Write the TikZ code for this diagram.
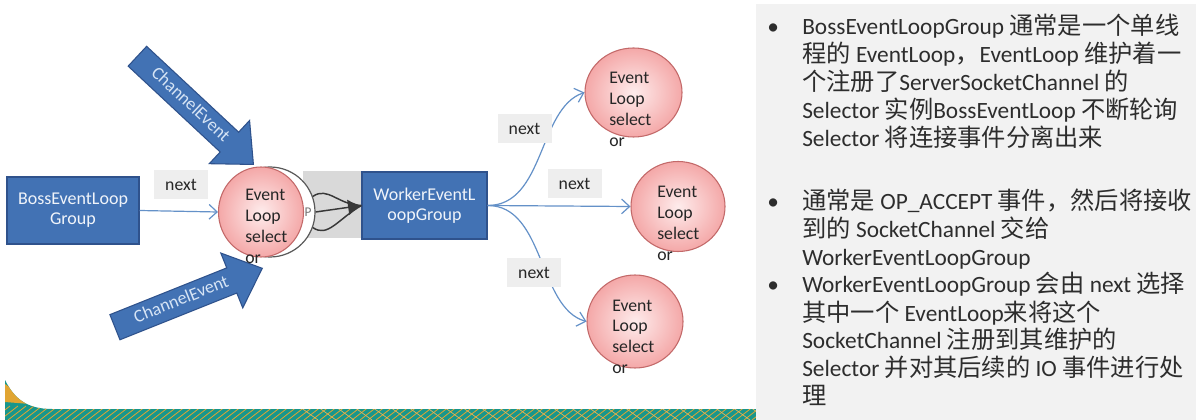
\documentclass[tikz,border=0pt]{standalone}
\usepackage{fontspec}
\setmainfont{Carlito}
\newfontfamily\cjk{Noto Sans CJK SC}[Scale=1.04]
\usetikzlibrary{shapes.geometric,shapes.arrows,arrows.meta}
\definecolor{boxblue}{RGB}{66,114,180}
\definecolor{boxedge}{RGB}{47,82,140}
\definecolor{boxtext}{RGB}{240,244,250}
\definecolor{arrtext}{RGB}{214,228,245}
\definecolor{pinkin}{RGB}{254,236,236}
\definecolor{pinkout}{RGB}{244,168,168}
\definecolor{pinkedge}{RGB}{195,105,105}
\definecolor{conncol}{RGB}{100,145,200}
\definecolor{lblbg}{RGB}{238,238,238}
\definecolor{junc}{RGB}{217,217,217}
\definecolor{panel}{RGB}{242,242,242}
\definecolor{ptext}{RGB}{45,45,45}
\definecolor{tealc}{RGB}{24,150,140}
\definecolor{orng}{RGB}{225,165,50}
\newcommand\zh[1]{{\cjk #1}}
\begin{document}
\begin{tikzpicture}[x=0.75pt,y=-0.75pt,
  bluebox/.style={rectangle, draw=boxedge, fill=boxblue, line width=0.9pt, text=boxtext,
    font=\fontsize{13.5}{15}\selectfont, align=center, inner sep=0pt},
  loopc/.style={ellipse, draw=pinkedge, line width=0.8pt, inner color=pinkin, outer color=pinkout, inner sep=0pt},
  ctext/.style={anchor=base west, inner sep=0pt, text=black!85, font=\fontsize{13.3}{15.75}\selectfont},
  nextlbl/.style={rectangle, fill=lblbg, minimum width=40.5pt, minimum height=22pt, inner sep=0pt,
    text=black!85, font=\fontsize{13.3}{15}\selectfont},
  conn/.style={draw=conncol, line width=0.9pt, -{Straight Barb[length=6pt,width=11pt]}},
  blk/.style={draw=black!78, line width=1.1pt},
  chev/.style={single arrow, draw=boxedge, fill=boxblue, line width=0.8pt, text=arrtext,
    font=\fontsize{13.5}{15}\selectfont, single arrow head extend=12pt, single arrow tip angle=84,
    minimum height=119pt, text height=9pt, text depth=2.5pt, inner ysep=4pt, inner xsep=2pt},
  ptxt/.style={anchor=base west, inner sep=0pt, text=ptext, font=\fontsize{17.5}{21}\selectfont}
]
\useasboundingbox (0,0) rectangle (1196,420);
\fill[white] (0,0) rectangle (1196,420);

% bottom decorative strip
\begin{scope}
  \clip (5,380) .. controls (14,398) and (26,409) .. (52,409) -- (757,409) -- (757,420) -- (5,420) -- cycle;
  \fill[tealc] (0,370) rectangle (760,420);
  \fill[orng] (5,384) -- (22,396) -- (30,404) -- (5,402) -- cycle;
  \foreach \i in {-40,-32,...,760} \draw[orng, line width=0.6pt] (\i,420) -- ++(18,-14);
  \foreach \i in {300,318,...,760} \draw[orng!80!white, line width=0.5pt] (\i,407) -- ++(18,13);
\end{scope}

% right panel
\fill[panel] (756,4) rectangle (1196,420);

% junction background and ring
\node[rectangle, fill=junc, minimum width=44.25pt, minimum height=50.25pt, inner sep=0pt] (jbg) at (332.5,204.5) {};
\node[circle, draw=black!65, fill=white, line width=0.9pt, minimum size=67.5pt, inner sep=0pt] (ring) at (270,212) {};
\node[inner sep=0pt, text=black!55, font=\fontsize{10}{12}\selectfont] (pl) at (308,212) {P};

% boxes
\node[bluebox, minimum width=99pt, minimum height=50.25pt] (boss) at (73,210.5) {BossEventLoop\\Group};
\node[bluebox, minimum width=93.75pt, minimum height=50.25pt] (worker) at (424.5,205.5) {WorkerEventL\\oopGroup};

% black fork arrow
\draw[blk, -{Latex[length=10pt,width=12pt]}] (ring.east) -- (worker.west);
\draw[blk] (ring.20) .. controls (328,186) and (338,205) .. (worker.west);
\draw[blk] (ring.-20) .. controls (328,238) and (338,219) .. (worker.west);

% event loop circles
\node[loopc, minimum width=63.75pt, minimum height=67.5pt] (c1) at (261,212) {};
\node[loopc, minimum width=72.75pt, minimum height=66.75pt] (ct) at (633.5,92.5) {};
\node[loopc, minimum width=70.5pt, minimum height=67.5pt] (cm) at (678,206.5) {};
\node[loopc, minimum width=72pt, minimum height=69.75pt] (cb) at (635,321.5) {};

% ChannelEvent block arrows
\node[chev, rotate=-43, anchor=tip] (ce1) at (254,165) {ChannelEvent};
\node[chev, rotate=21.8, anchor=tip] (ce2) at (263,268) {ChannelEvent};

% circle texts
\node[ctext] (t1) at (245,201) {\vtop{\hbox{Event}\hbox{Loop}\hbox{select}\hbox{or}}};
\node[ctext] (tt) at (609,84) {\vtop{\hbox{Event}\hbox{Loop}\hbox{select}\hbox{or}}};
\node[ctext] (tm) at (657,198) {\vtop{\hbox{Event}\hbox{Loop}\hbox{select}\hbox{or}}};
\node[ctext] (tb) at (612,311) {\vtop{\hbox{Event}\hbox{Loop}\hbox{select}\hbox{or}}};

% connectors
\draw[conn] (boss.east) -- (c1.west);
\draw[conn] (worker.east) .. controls (545,205.5) and (538,108) .. (ct.west);
\draw[conn] (worker.east) -- (cm.west);
\draw[conn] (worker.east) .. controls (545,205.5) and (538,308) .. (cb.west);

% next labels
\node[nextlbl] (n0) at (181,184.5) {next};
\node[nextlbl] (n1) at (524.5,128.5) {next};
\node[nextlbl] (n2) at (574.5,183.5) {next};
\node[nextlbl] (n3) at (534,272.5) {next};

% right panel text
\node[ptxt] (bu1) at (767,35) {•};
\node[ptxt] (p1) at (802,35) {\vtop{%
  \hbox{BossEventLoopGroup \zh{通常是一个单线}}%
  \hbox{\zh{程的} EventLoop\zh{，}EventLoop \zh{维护着一}}%
  \hbox{\zh{个注册了}ServerSocketChannel \zh{的}}%
  \hbox{Selector \zh{实例}BossEventLoop \zh{不断轮询}}%
  \hbox{Selector \zh{将连接事件分离出来}}}};
\node[ptxt] (bu2) at (767,210) {•};
\node[ptxt] (p2) at (802,210) {\vtop{%
  \hbox{\zh{通常是} OP\_ACCEPT \zh{事件，然后将接收}}%
  \hbox{\zh{到的} SocketChannel \zh{交给}}%
  \hbox{WorkerEventLoopGroup}}};
\node[ptxt] (bu3) at (767,293) {•};
\node[ptxt] (p3) at (802,293) {\vtop{%
  \hbox{WorkerEventLoopGroup \zh{会由} next \zh{选择}}%
  \hbox{\zh{其中一个} EventLoop\zh{来将这个}}%
  \hbox{SocketChannel \zh{注册到其维护的}}%
  \hbox{Selector \zh{并对其后续的} IO \zh{事件进行处}}%
  \hbox{\zh{理}}}};
\end{tikzpicture}
\end{document}
